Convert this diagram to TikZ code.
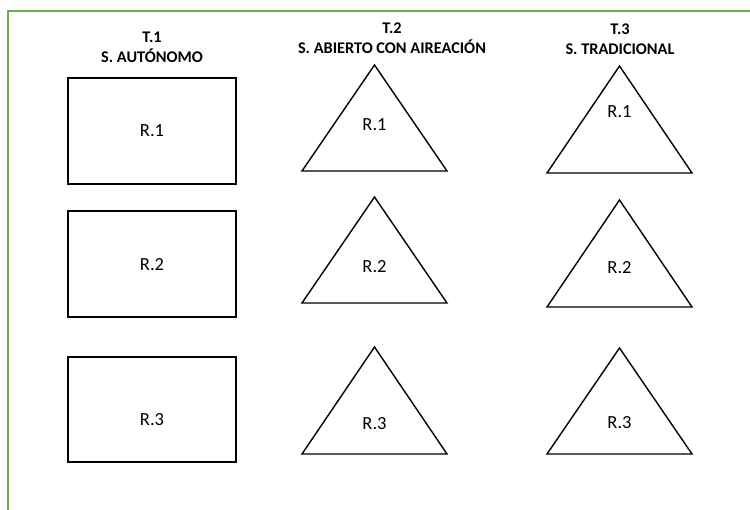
\documentclass[tikz,border=0pt]{standalone}
\usepackage{fontspec}
\setmainfont{Carlito}
\definecolor{frame}{RGB}{112,173,71}
\tikzset{
  shapeline/.style={draw=black, line width=1.4pt, line join=miter},
  head/.style={align=center, font=\fontsize{16.3}{19.8}\selectfont\bfseries, inner sep=0pt},
  lab/.style={font=\fontsize{18.5}{20}\selectfont, inner sep=0pt},
  border/.style={draw=frame, line width=1.5pt}
}
\begin{document}
\begin{tikzpicture}[x=1pt,y=-1pt]
\useasboundingbox (0,0) rectangle (750,510);
\fill[white] (0,0) rectangle (750,510);
% green frame
\coordinate (fb) at (8,510);
\coordinate (fc) at (8,11);
\coordinate (fr) at (750,11);
\draw[border] (fb) -- (fc) -- (fr);
% headers
\node[head] (h1) at (152,47) {T.1\\S. AUTÓNOMO};
\node[head] (h2) at (392,38) {T.2\\S. ABIERTO CON AIREACIÓN};
\node[head] (h3) at (620,39.5) {T.3\\S. TRADICIONAL};
% column 1 rectangles
\draw[shapeline] (68,78) rectangle (236,184);
\draw[shapeline] (68,211) rectangle (236,317);
\draw[shapeline] (68,357) rectangle (236,462);
\node[lab] (a1) at (152,131) {R.1};
\node[lab] (a2) at (152,265) {R.2};
\node[lab] (a3) at (152,420) {R.3};
% column 2 triangles
\draw[shapeline] (374.5,65) -- (447,171) -- (302,171) -- cycle;
\draw[shapeline] (374.5,197) -- (447,303) -- (302,303) -- cycle;
\draw[shapeline] (374.5,347) -- (447,454) -- (302,454) -- cycle;
\node[lab] (b1) at (374.5,125) {R.1};
\node[lab] (b2) at (374.5,267) {R.2};
\node[lab] (b3) at (374.5,424) {R.3};
% column 3 triangles
\draw[shapeline] (619.5,66) -- (692,173) -- (547,173) -- cycle;
\draw[shapeline] (619.5,200) -- (692,307) -- (547,307) -- cycle;
\draw[shapeline] (619.5,348) -- (692,454) -- (547,454) -- cycle;
\node[lab] (c1) at (619.5,112) {R.1};
\node[lab] (c2) at (619.5,268) {R.2};
\node[lab] (c3) at (619.5,423) {R.3};
\end{tikzpicture}
\end{document}
